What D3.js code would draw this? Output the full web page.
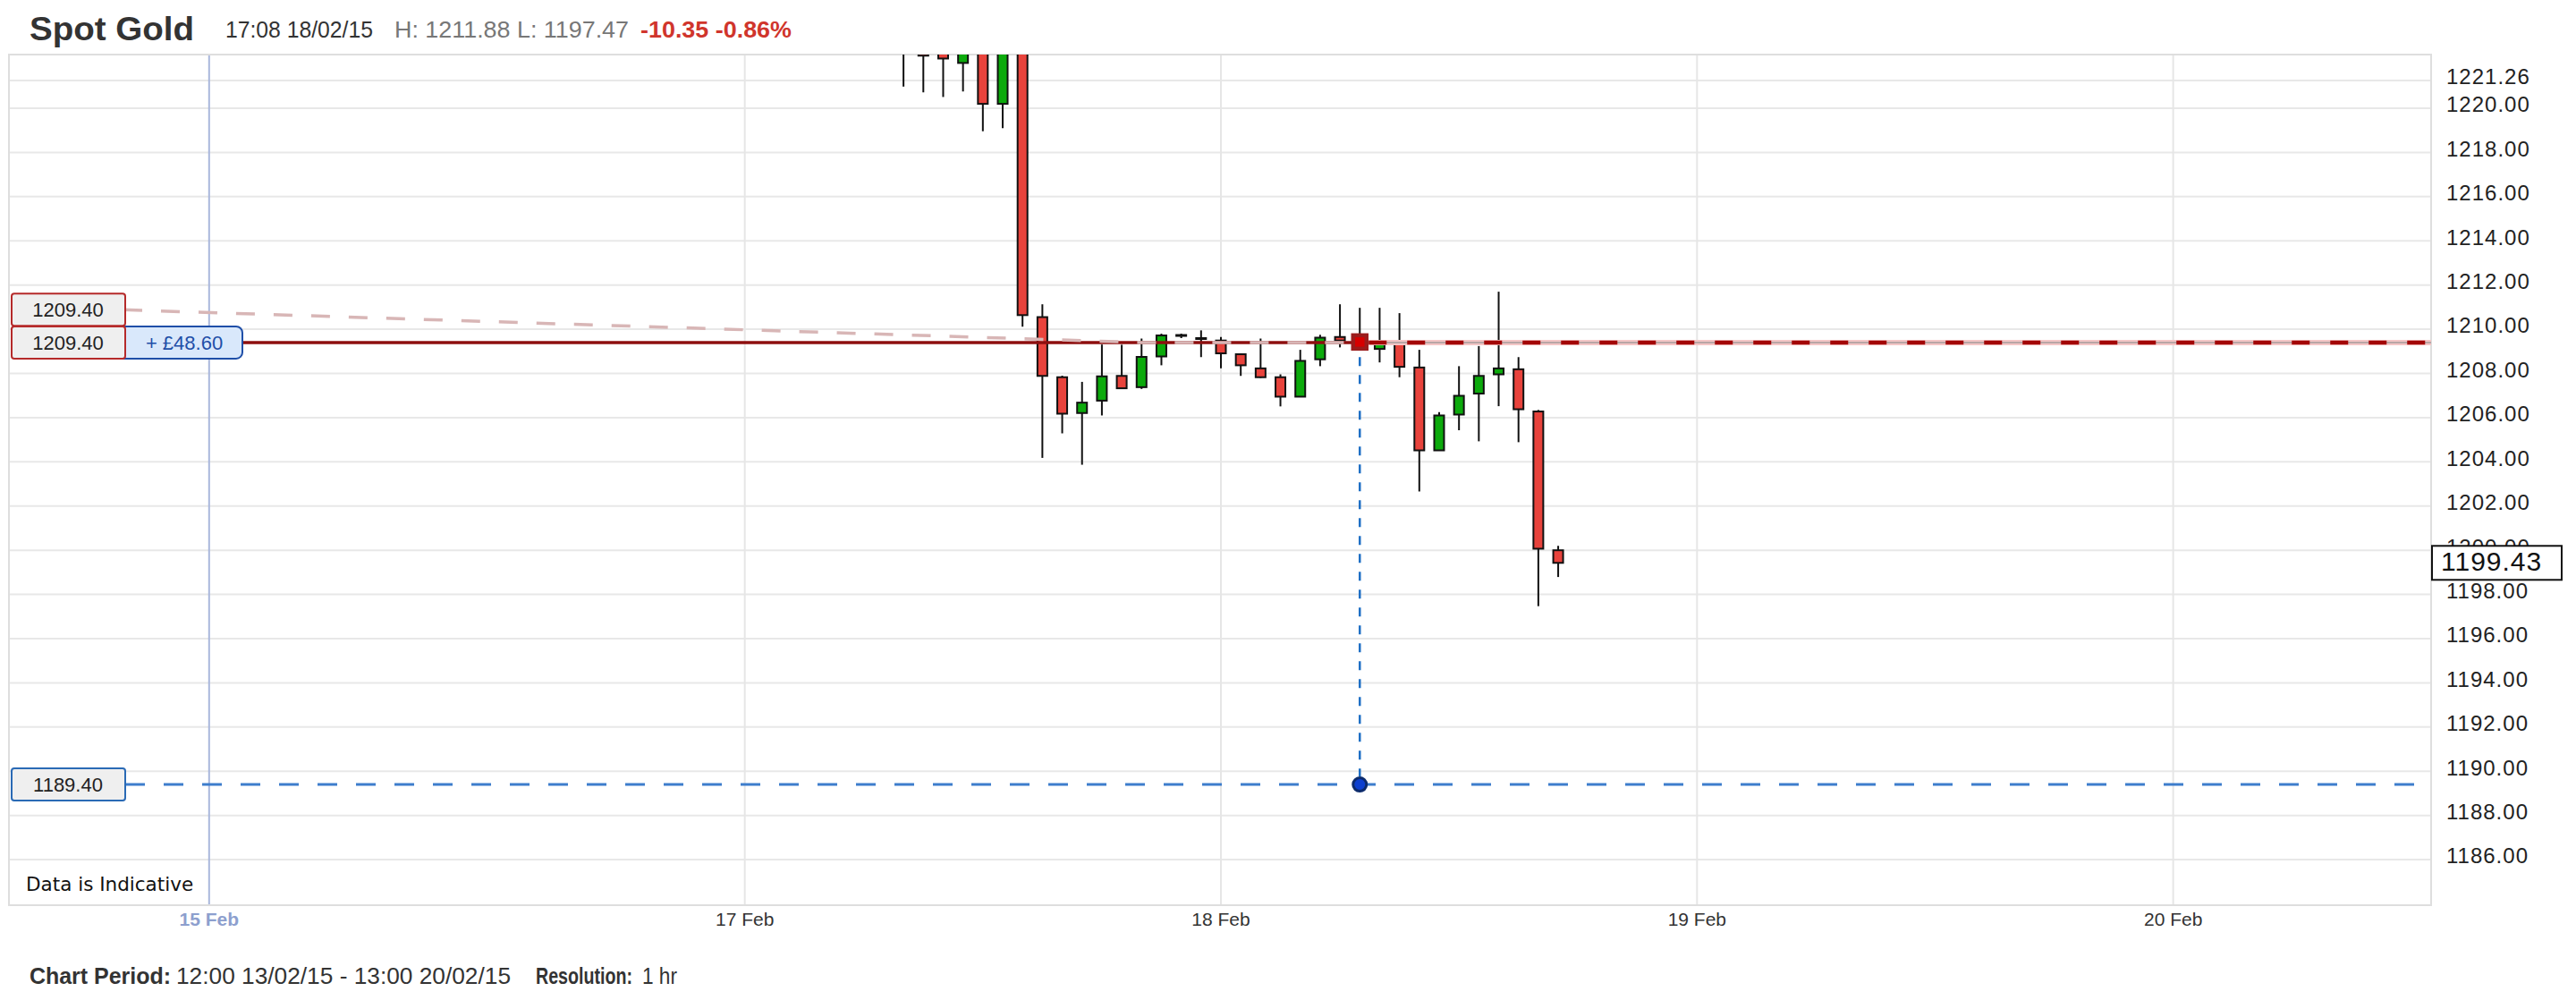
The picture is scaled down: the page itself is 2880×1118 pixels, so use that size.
<!DOCTYPE html>
<html>
<head>
<meta charset="utf-8">
<script src="https://cdn.jsdelivr.net/npm/d3@7"></script>
<style>
  body { margin: 0; background: #fff; }
  svg { display: block; font-family: "Liberation Sans", Arial, sans-serif; }
</style>
</head>
<body>
<div id="chart"></div>
<script>
// hourly candles, Spot Gold, 17 Feb 08:00 -> 18 Feb 17:00
const times = [
  "2015-02-17T08:00", "2015-02-17T09:00", "2015-02-17T10:00", "2015-02-17T11:00",
  "2015-02-17T12:00", "2015-02-17T13:00", "2015-02-17T14:00", "2015-02-17T15:00",
  "2015-02-17T16:00", "2015-02-17T17:00", "2015-02-17T18:00", "2015-02-17T19:00",
  "2015-02-17T20:00", "2015-02-17T21:00", "2015-02-17T22:00", "2015-02-17T23:00",
  "2015-02-18T00:00", "2015-02-18T01:00", "2015-02-18T02:00", "2015-02-18T03:00",
  "2015-02-18T04:00", "2015-02-18T05:00", "2015-02-18T06:00", "2015-02-18T07:00",
  "2015-02-18T08:00", "2015-02-18T09:00", "2015-02-18T10:00", "2015-02-18T11:00",
  "2015-02-18T12:00", "2015-02-18T13:00", "2015-02-18T14:00", "2015-02-18T15:00",
  "2015-02-18T16:00", "2015-02-18T17:00"
];
const opens  = [1223.6, 1223.8, 1223.4, 1222.05, 1223.0, 1220.2, 1223.3, 1210.55,
                1207.83, 1206.21, 1206.77, 1207.89, 1207.38, 1208.77, 1209.74, 1209.60,
                1209.49, 1208.87, 1208.23, 1207.83, 1206.95, 1208.64, 1209.65, 1209.55,
                1209.11, 1209.42, 1208.27, 1204.52, 1206.14, 1207.09, 1207.96, 1208.19,
                1206.28, 1200.00];
const highs  = [1224.2, 1224.5, 1224.0, 1223.5, 1223.6, 1223.5, 1223.8, 1211.13,
                1207.90, 1207.62, 1209.31, 1209.30, 1209.58, 1209.80, 1209.80, 1209.95,
                1209.65, 1208.90, 1209.58, 1207.96, 1209.07, 1209.75, 1211.13, 1210.97,
                1210.97, 1210.73, 1209.07, 1206.25, 1208.33, 1209.24, 1211.70, 1208.74,
                1206.35, 1200.20];
const lows   = [1220.98, 1220.72, 1220.51, 1220.76, 1218.96, 1219.10, 1210.12, 1204.18,
                1205.29, 1203.87, 1206.10, 1207.30, 1207.30, 1208.37, 1209.60, 1208.74,
                1208.23, 1207.89, 1207.80, 1206.51, 1206.93, 1208.33, 1209.18, 1209.25,
                1208.50, 1207.83, 1202.66, 1204.50, 1205.43, 1204.93, 1206.52, 1204.89,
                1197.47, 1198.79];
const closes = [1223.0, 1222.38, 1222.25, 1223.2, 1220.2, 1223.0, 1210.64, 1207.89,
                1206.18, 1206.68, 1207.87, 1207.33, 1208.75, 1209.72, 1209.70, 1209.58,
                1208.91, 1208.37, 1207.83, 1206.95, 1208.57, 1209.62, 1209.49, 1209.30,
                1209.45, 1208.30, 1204.52, 1206.10, 1206.99, 1207.89, 1208.23, 1206.38,
                1200.07, 1199.43];

const priceTicks = [1186, 1188, 1190, 1192, 1194, 1196, 1198, 1200, 1202, 1204,
                    1206, 1208, 1210, 1212, 1214, 1216, 1218, 1220, 1221.26];
const dayLabels = ["15 Feb", "17 Feb", "18 Feb", "19 Feb", "20 Feb"];
const dayDates  = ["2015-02-15T21:00", "2015-02-17T00:00", "2015-02-18T00:00",
                   "2015-02-19T00:00", "2015-02-20T00:00"];

const periodStart = "2015-02-13T12:00";
const periodEnd   = "2015-02-20T13:00";
const weekendGap  = ["2015-02-13T22:00", "2015-02-15T21:00"];

const lastPrice   = 1199.43;
const orderLevel  = 1209.40;
const ghostLevel  = 1210.88;
const ghostMeet   = "2015-02-17T20:00";
const stopLevel   = 1189.40;
const selected    = "2015-02-18T07:00";
const profitText  = "+ £48.60";

const parse = d3.utcParse("%Y-%m-%dT%H:%M");
const gapA = +parse(weekendGap[0]), gapB = +parse(weekendGap[1]);
// trading time: the weekend is cut out of the axis
const compress = t => { t = +t; return t <= gapA ? t : (t >= gapB ? t - (gapB - gapA) : gapA); };

const W = 2880, H = 1118;
const plot = {left: 10, right: 2718, top: 61, bottom: 1012};

const x = d3.scaleLinear()
  .domain([compress(parse(periodStart)), compress(parse(periodEnd))])
  .range([12, plot.right]);
const y = d3.scaleLinear().domain([1183.94, 1222.43]).range([plot.bottom, plot.top]);
const xt = s => x(compress(parse(s)));

const data = times.map((t, i) => ({t, o: opens[i], h: highs[i], l: lows[i], c: closes[i]}));

const red = "#e8433c", green = "#0caa0c";

const svg = d3.select("#chart").append("svg")
  .attr("width", W).attr("height", H)
  .attr("viewBox", [0, 0, W, H]);

svg.append("defs").append("clipPath").attr("id", "clip")
  .append("rect")
  .attr("x", plot.left).attr("y", plot.top)
  .attr("width", plot.right - plot.left).attr("height", plot.bottom - plot.top);

// header (widths fitted to the narrow face of the original)
const header = svg.append("g").attr("font-size", 25);
header.append("text").attr("x", 33).attr("y", 45)
  .attr("font-size", 37).attr("font-weight", "bold").attr("fill", "#333")
  .attr("textLength", 184).attr("lengthAdjust", "spacingAndGlyphs").text("Spot Gold");
header.append("text").attr("x", 252).attr("y", 42).attr("fill", "#333")
  .attr("textLength", 165).attr("lengthAdjust", "spacingAndGlyphs").text("17:08 18/02/15");
header.append("text").attr("x", 441).attr("y", 42).attr("fill", "#777")
  .attr("textLength", 262).attr("lengthAdjust", "spacingAndGlyphs").text("H: 1211.88 L: 1197.47");
header.append("text").attr("x", 716).attr("y", 42).attr("fill", "#d0352c")
  .attr("font-weight", "bold")
  .attr("textLength", 169).attr("lengthAdjust", "spacingAndGlyphs").text("-10.35 -0.86%");

// grid
svg.append("g")
  .selectAll("line")
  .data(priceTicks)
  .join("line")
  .attr("x1", plot.left).attr("x2", plot.right)
  .attr("y1", d => y(d)).attr("y2", d => y(d))
  .attr("stroke", "#e8e8e8").attr("stroke-width", 2);

svg.append("g")
  .selectAll("line")
  .data(dayDates)
  .join("line")
  .attr("x1", d => xt(d)).attr("x2", d => xt(d))
  .attr("y1", plot.top).attr("y2", plot.bottom)
  .attr("stroke", (d, i) => i === 0 ? "#a9b7dc" : "#e6e6e6")
  .attr("stroke-width", 2);

svg.append("rect")
  .attr("x", plot.left).attr("y", plot.top)
  .attr("width", plot.right - plot.left).attr("height", plot.bottom - plot.top)
  .attr("fill", "none").attr("stroke", "#dedede").attr("stroke-width", 2);

// day labels
svg.append("g")
  .selectAll("text")
  .data(dayDates)
  .join("text")
  .attr("x", d => xt(d)).attr("y", 1035)
  .attr("text-anchor", "middle").attr("font-size", 21)
  .attr("font-weight", (d, i) => i === 0 ? "bold" : "normal")
  .attr("fill", (d, i) => i === 0 ? "#8d9fce" : "#333")
  .text((d, i) => dayLabels[i]);

// candles
const cg = svg.append("g").attr("clip-path", "url(#clip)");
cg.selectAll("line")
  .data(data)
  .join("line")
  .attr("x1", d => xt(d.t)).attr("x2", d => xt(d.t))
  .attr("y1", d => y(d.h)).attr("y2", d => y(d.l))
  .attr("stroke", "#111").attr("stroke-width", 2);
cg.selectAll("rect")
  .data(data)
  .join("rect")
  .attr("x", d => xt(d.t) - 5.5)
  .attr("width", 11)
  .attr("y", d => y(Math.max(d.o, d.c)))
  .attr("height", d => Math.max(1, Math.abs(y(d.o) - y(d.c))))
  .attr("fill", d => d.c >= d.o ? green : red)
  .attr("stroke", "#111").attr("stroke-width", 2);

const sel = data.find(d => d.t === selected);
const selX = xt(selected);
const selY = y((sel.o + sel.c) / 2);

// ghost order line sloping into the order level
const ghost = [[138, y(ghostLevel)], [xt(ghostMeet), y(orderLevel)], [selX - 10, y(orderLevel)]];

// solid order line up to the selected candle
svg.append("line")
  .attr("x1", 271).attr("x2", selX - 9)
  .attr("y1", y(orderLevel)).attr("y2", y(orderLevel))
  .attr("stroke", "#8e0f0f").attr("stroke-width", 3.5);

svg.append("path")
  .attr("d", d3.line()(ghost))
  .attr("fill", "none").attr("stroke", "#d8b6b6").attr("stroke-width", 3.5)
  .attr("stroke-dasharray", "21,21");

// dashed order line to the right
const ol = svg.append("g");
[["#f4c6c6", 6, null], ["#b9a6a6", 2, null], ["#a30606", 4.5, "20,23"]].forEach(([c, w, dash]) => {
  ol.append("line")
    .attr("x1", selX + 10).attr("x2", plot.right)
    .attr("y1", y(orderLevel)).attr("y2", y(orderLevel))
    .attr("stroke", c).attr("stroke-width", w)
    .attr("stroke-dasharray", dash);
});

// stop line
svg.append("line")
  .attr("x1", 140).attr("x2", plot.right)
  .attr("y1", y(stopLevel)).attr("y2", y(stopLevel))
  .attr("stroke", "#3d7dcc").attr("stroke-width", 3)
  .attr("stroke-dasharray", "22,21");

svg.append("line")
  .attr("x1", selX).attr("x2", selX)
  .attr("y1", selY + 17).attr("y2", y(stopLevel) - 9)
  .attr("stroke", "#1f6fc5").attr("stroke-width", 2.5)
  .attr("stroke-dasharray", "10,10");

// selected candle marker
svg.append("rect")
  .attr("x", selX - 7.5).attr("y", selY - 7.5)
  .attr("width", 15).attr("height", 15)
  .attr("fill", "#d60000").attr("stroke", "#9b1c1c").attr("stroke-width", 4.5);

svg.append("circle")
  .attr("cx", selX).attr("cy", y(stopLevel)).attr("r", 7.5)
  .attr("fill", "#0c3fcf").attr("stroke", "#0c2b6c").attr("stroke-width", 3);

// left tags
const tags = svg.append("g").attr("font-size", 22).attr("text-anchor", "middle");
tags.append("rect").attr("x", 128).attr("y", y(orderLevel) - 18).attr("width", 143).attr("height", 36)
  .attr("rx", 7).attr("fill", "#d9e8fb").attr("stroke", "#1f4fa8").attr("stroke-width", 2);
tags.append("text").attr("x", 206).attr("y", y(orderLevel) + 8).attr("fill", "#1f4fa8").text(profitText);

[[ghostLevel, orderLevel, "#b52a2a"], [orderLevel, orderLevel, "#b52a2a"], [stopLevel, stopLevel, "#2a6ab5"]]
  .forEach(([pos, val, col]) => {
    tags.append("rect").attr("x", 13).attr("y", y(pos) - 18).attr("width", 127).attr("height", 36)
      .attr("rx", 3).attr("fill", "#efefef").attr("stroke", col).attr("stroke-width", 2);
    tags.append("text").attr("x", 76).attr("y", y(pos) + 8).attr("fill", "#222").text(val.toFixed(2));
  });

svg.append("text").attr("x", 29).attr("y", 996)
  .attr("font-family", "DejaVu Sans").attr("font-size", 21.5).attr("fill", "#111")
  .text("Data is Indicative");

// price axis
svg.append("g")
  .selectAll("text")
  .data(priceTicks)
  .join("text")
  .attr("x", 2735).attr("y", d => y(d) - 2)
  .attr("dominant-baseline", "middle")
  .attr("font-size", 24).attr("letter-spacing", 1).attr("fill", "#222")
  .text(d => d.toFixed(2));

svg.append("rect")
  .attr("x", 2719).attr("y", y(lastPrice) - 19).attr("width", 145).attr("height", 38)
  .attr("fill", "#fff").attr("stroke", "#111").attr("stroke-width", 2);
svg.append("text")
  .attr("x", 2729).attr("y", y(lastPrice) + 1)
  .attr("dominant-baseline", "middle")
  .attr("font-size", 30).attr("letter-spacing", 1).attr("fill", "#111")
  .text(lastPrice.toFixed(2));

// footer
const foot = svg.append("g").attr("font-size", 25).attr("fill", "#333")
  .attr("lengthAdjust", "spacingAndGlyphs");
[["Chart Period:", 33, 158, true], ["12:00 13/02/15 - 13:00 20/02/15", 197, 374, false],
 ["Resolution:", 599, 108, true], ["1 hr", 718, 39, false]].forEach(([t, x0, len, bold]) => {
  foot.append("text").attr("x", x0).attr("y", 1100)
    .attr("font-weight", bold ? "bold" : "normal")
    .attr("textLength", len).attr("lengthAdjust", "spacingAndGlyphs")
    .text(t);
});
</script>
</body>
</html>
